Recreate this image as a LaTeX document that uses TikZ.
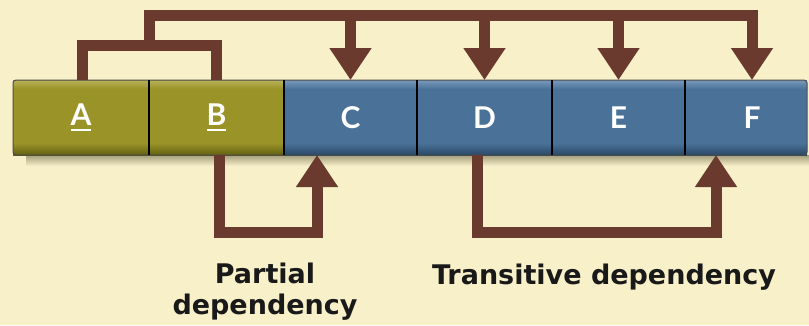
\documentclass[tikz,border=0pt]{standalone}
\usepackage{fontspec}
\setmainfont{Lato}
\newfontfamily\lblfont{DejaVu Sans}
\usetikzlibrary{arrows.meta,calc}
\newcommand{\keyul}[1]{{\setbox0\hbox{#1}\rlap{\rule[-6pt]{\wd0}{2.4pt}}#1}}
\definecolor{bg}{HTML}{F7F0C9}
\definecolor{olive}{HTML}{9A9328}
\definecolor{olivehi}{HTML}{B8B259}
\definecolor{olivelo}{HTML}{626012}
\definecolor{blue}{HTML}{4A7298}
\definecolor{bluehi}{HTML}{7899BA}
\definecolor{bluelo}{HTML}{2A4866}
\definecolor{brownarr}{HTML}{6B3A2E}
\definecolor{shadowc}{HTML}{A49D7A}
\begin{document}
\begin{tikzpicture}[x=1pt,y=-1pt,
  cell/.style={minimum height=75pt,inner sep=0pt,outer sep=0pt,text=white,
    font=\bfseries\fontsize{30}{34}\selectfont},
  keycell/.style={cell,fill=olive},
  plaincell/.style={cell,fill=blue},
  dep/.style={draw=brownarr,line width=11pt,line join=miter},
  deparrow/.style={dep,-{Triangle[width=40pt,length=32pt]}},
  lbl/.style={font=\lblfont\bfseries\fontsize{27}{31}\selectfont,text=black!90,align=center}]
\useasboundingbox (0,0) rectangle (809,325);
\fill[bg] (0,0) rectangle (809,325);
% shadow
\shade[top color=shadowc,bottom color=bg] (26,155) rectangle (809,166);
% cells
\node[keycell,minimum width=136pt] (A) at (81,117.5) {};
\node[keycell,minimum width=135pt] (B) at (216.5,117.5) {};
\node[plaincell,minimum width=133pt] (C) at (350.5,117.5) {};
\node[plaincell,minimum width=135pt] (D) at (484.5,117.5) {};
\node[plaincell,minimum width=133pt] (E) at (618.5,117.5) {};
\node[plaincell,minimum width=122pt] (F) at (746,117.5) {};
\foreach \c/\h/\m/\l in {A/olivehi/olive/olivelo,B/olivehi/olive/olivelo,C/bluehi/blue/bluelo,D/bluehi/blue/bluelo,E/bluehi/blue/bluelo,F/bluehi/blue/bluelo}{
  \shade[top color=\h,bottom color=\m] (\c.north west) rectangle ([yshift=-9pt]\c.north east);
  \shade[top color=\m,bottom color=\l] ([yshift=12pt]\c.south west) rectangle (\c.south east);
}
\node[cell] at (A) {\keyul{A}};
\node[cell] at (B) {\keyul{B}};
\node[cell] at (C) {C};
\node[cell] at (D) {D};
\node[cell] at (E) {E};
\node[cell] at ([xshift=6pt]F.center) {F};
\draw[gray!60!black,line width=1pt,rounded corners=3pt] (A.north west) rectangle (F.south east);
\foreach \c in {B,C,D,E,F}{\draw[black,line width=2.2pt] (\c.north west) -- (\c.south west);}
% top dependencies
\coordinate (top) at (0,15);
\coordinate (mid) at (0,45);
\coordinate (j1) at (149,45);
\draw[dep] ([xshift=1pt]A.north) -- ([xshift=1pt]A.north |- mid) -| (B.north);
\draw[deparrow] (j1) -- (j1 |- top) -| ([xshift=6pt]F.north);
\foreach \c in {C,D,E}{\draw[deparrow] (\c.north |- top) -- (\c.north);}
% bottom dependencies
\coordinate (bot) at (0,232);
\draw[deparrow] ([xshift=2.5pt]B.south) -- ([xshift=2.5pt]B.south |- bot) -| ([xshift=-33.5pt]C.south);
\draw[deparrow] ([xshift=-7.5pt]D.south) -- ([xshift=-7.5pt]D.south |- bot) -| ([xshift=-30pt]F.south);
% labels
\node[lbl] (pl) at (265,292) {Partial\\dependency};
\node[lbl,anchor=base] (tl) at (604,284) {Transitive dependency};
\end{tikzpicture}
\end{document}
